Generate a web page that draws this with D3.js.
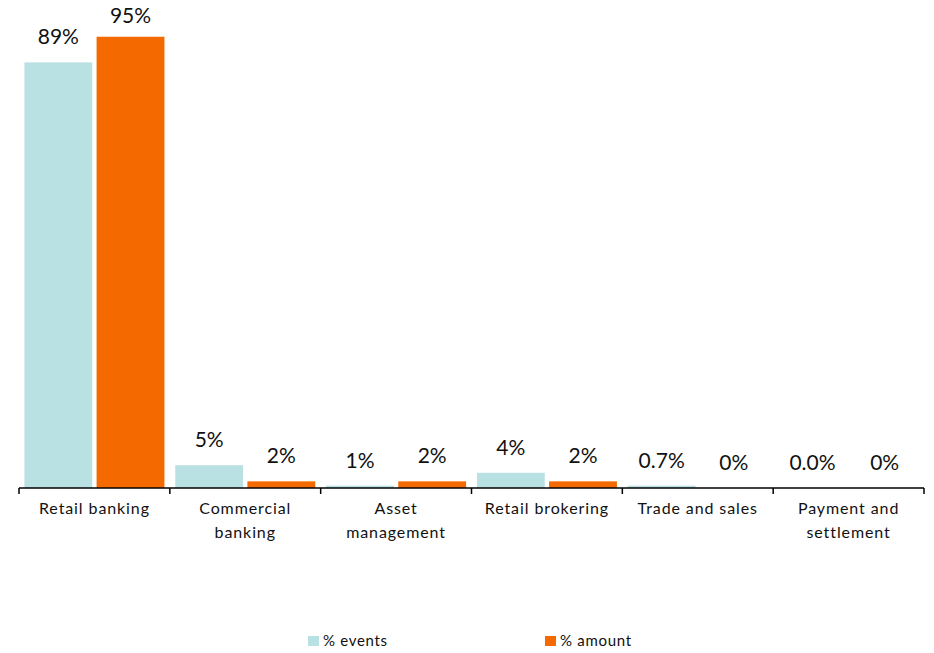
<!DOCTYPE html>
<html>
<head>
<meta charset="utf-8">
<script src="https://cdn.jsdelivr.net/npm/d3@7"></script>
<style>
  body { margin: 0; background: #fff; }
  svg text { font-family: Lato, "Liberation Sans", sans-serif; fill: #111; }
</style>
</head>
<body>
<div id="chart"></div>
<script>
// Chart data
const categories = [
  ['Retail banking'],
  ['Commercial', 'banking'],
  ['Asset', 'management'],
  ['Retail brokering'],
  ['Trade and sales'],
  ['Payment and', 'settlement']
];
const seriesNames = ['% events', '% amount'];
const eventsValues = [89.6, 4.8, 0.5, 3.2, 0.5, 0.0];
const amountValues = [95.0, 1.4, 1.4, 1.4, 0.0, 0.0];
const eventsLabels = ['89%', '5%', '1%', '4%', '0.7%', '0.0%'];
const amountLabels = ['95%', '2%', '2%', '2%', '0%', '0%'];
const colors = ['#b9e0e3', '#f46a00'];

const width = 934, height = 653;
const baseY = 488;

const svg = d3.select('#chart').append('svg')
  .attr('width', width)
  .attr('height', height);

const x0 = d3.scaleBand()
  .domain(d3.range(categories.length))
  .range([19, 924])
  .paddingInner(0)
  .paddingOuter(0);

const x1 = d3.scaleBand()
  .domain([0, 1])
  .range([0, x0.bandwidth()])
  .paddingInner(0.06)
  .paddingOuter(0.075);

const y = d3.scaleLinear()
  .domain([0, 100])
  .range([baseY, 13]);

const rows = categories.map((c, i) => ({
  i,
  values: [
    { s: 0, v: eventsValues[i], label: eventsLabels[i] },
    { s: 1, v: amountValues[i], label: amountLabels[i] }
  ]
}));

const groups = svg.append('g').selectAll('g')
  .data(rows)
  .join('g')
  .attr('transform', d => `translate(${x0(d.i)},0)`);

// Bars
groups.selectAll('rect')
  .data(d => d.values)
  .join('rect')
  .attr('x', d => x1(d.s))
  .attr('y', d => y(d.v))
  .attr('width', x1.bandwidth())
  .attr('height', d => baseY - y(d.v))
  .attr('fill', d => colors[d.s]);

// Value labels (kept inside the top edge)
groups.selectAll('text.val')
  .data(d => d.values)
  .join('text')
  .attr('class', 'val')
  .attr('x', d => x1(d.s) + x1.bandwidth() / 2)
  .attr('y', d => Math.max(y(d.v) - 18, 23))
  .attr('text-anchor', 'middle')
  .attr('font-size', 21)
  .text(d => d.label);

// Category axis
const axis = svg.append('g');
axis.append('line')
  .attr('x1', x0.range()[0]).attr('x2', x0.range()[1])
  .attr('y1', baseY).attr('y2', baseY)
  .attr('stroke', '#000').attr('stroke-width', 1.5);

const tickXs = d3.range(categories.length + 1).map(i => x0.range()[0] + i * x0.step());
axis.selectAll('line.tick')
  .data(tickXs)
  .join('line')
  .attr('class', 'tick')
  .attr('x1', d => d).attr('x2', d => d)
  .attr('y1', baseY).attr('y2', baseY + 6)
  .attr('stroke', '#000').attr('stroke-width', 1.5);

axis.selectAll('text')
  .data(categories)
  .join('text')
  .attr('x', (d, i) => x0(i) + x0.bandwidth() / 2)
  .attr('y', 514)
  .attr('text-anchor', 'middle')
  .attr('font-size', 16)
  .attr('letter-spacing', 0.9)
  .selectAll('tspan')
  .data(d => d)
  .join('tspan')
  .attr('x', function () { return this.parentNode.getAttribute('x'); })
  .attr('dy', (d, i) => i === 0 ? 0 : 24)
  .text(d => d);

// Legend
const legendXs = [308, 545];
const legend = svg.append('g').selectAll('g')
  .data(seriesNames)
  .join('g')
  .attr('transform', (d, i) => `translate(${legendXs[i]},636)`);

legend.append('rect')
  .attr('width', 11).attr('height', 10)
  .attr('fill', (d, i) => colors[i]);

legend.append('text')
  .attr('x', 15).attr('y', 10)
  .attr('font-size', 15)
  .attr('letter-spacing', 0.7)
  .text(d => d);
</script>
</body>
</html>
